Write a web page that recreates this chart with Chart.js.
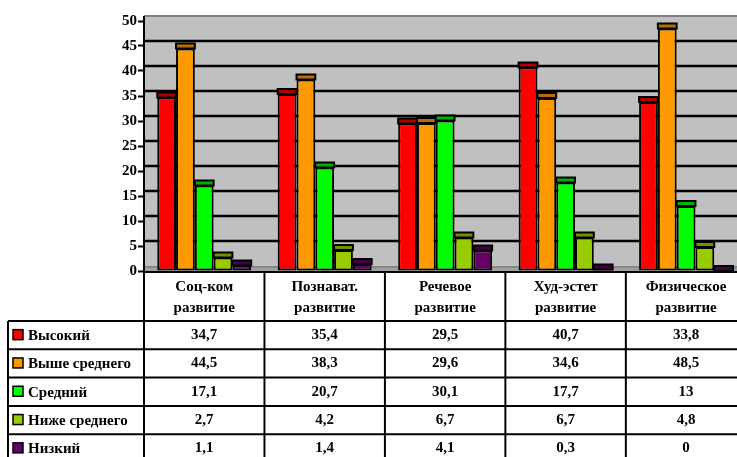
<!DOCTYPE html>
<html>
<head>
<meta charset="utf-8">
<script src="https://cdn.jsdelivr.net/npm/chart.js@4/dist/chart.umd.min.js"></script>
<style>
  html, body { margin: 0; padding: 0; background: #fff; overflow: hidden; }
  #wrap { width: 760px; height: 457px; position: relative; }
</style>
</head>
<body>
<div id="wrap"><canvas id="c" width="760" height="457"></canvas></div>
<script>
// ---- data ----
const categories = [['Соц-ком', 'развитие'], ['Познават.', 'развитие'], ['Речевое', 'развитие'], ['Худ-эстет', 'развитие'], ['Физическое', 'развитие']];
const seriesNames = ['Высокий', 'Выше среднего', 'Средний', 'Ниже среднего', 'Низкий'];
const valuesHigh = [34.7, 35.4, 29.5, 40.7, 33.8];
const valuesAboveAvg = [44.5, 38.3, 29.6, 34.6, 48.5];
const valuesAvg = [17.1, 20.7, 30.1, 17.7, 13];
const valuesBelowAvg = [2.7, 4.2, 6.7, 6.7, 4.8];
const valuesLow = [1.1, 1.4, 4.1, 0.3, 0];
const yTicks = [0, 5, 10, 15, 20, 25, 30, 35, 40, 45, 50];

// ---- styles ----
const faceColors = ['#FF0000', '#FF9900', '#00FF00', '#99CC00', '#660066'];
const capColors = ['#A80000', '#B86E00', '#00B000', '#6E9300', '#470047'];
const FONT = '"Liberation Serif", "Times New Roman", serif';
const DEPTH = 5;

const seriesValues = [valuesHigh, valuesAboveAvg, valuesAvg, valuesBelowAvg, valuesLow];

const fmt = v => String(v).replace('.', ',');

const wallPlugin = {
  id: 'wall',
  beforeDatasetsDraw(chart) {
    const { ctx, chartArea: a, scales: { y } } = chart;
    const top = y.getPixelForValue(yTicks[yTicks.length - 1]) - DEPTH;
    const y0 = y.getPixelForValue(0);
    ctx.save();
    ctx.fillStyle = '#C0C0C0';
    ctx.fillRect(a.left, top, a.right - a.left, y0 - top);
    // floor
    ctx.fillStyle = '#A0A0A0';
    ctx.fillRect(a.left, y0 - DEPTH, a.right - a.left, DEPTH);
    ctx.strokeStyle = '#808080';
    ctx.lineWidth = 1.5;
    ctx.beginPath();
    ctx.moveTo(a.left, y0 - DEPTH + 1); ctx.lineTo(a.right, y0 - DEPTH + 1);
    ctx.stroke();
    // gridlines on back wall
    ctx.strokeStyle = '#000';
    ctx.lineWidth = 2.5;
    yTicks.forEach(t => {
      if (t === 0 || t === yTicks[yTicks.length - 1]) return;
      const py = y.getPixelForValue(t) - DEPTH;
      ctx.beginPath();
      ctx.moveTo(a.left, py); ctx.lineTo(a.right, py);
      ctx.stroke();
    });
    // top border
    ctx.strokeStyle = '#808080';
    ctx.lineWidth = 2;
    ctx.beginPath();
    ctx.moveTo(a.left, top); ctx.lineTo(a.right, top);
    ctx.stroke();
    ctx.restore();
  },
  afterDatasetsDraw(chart) {
    const { ctx } = chart;
    ctx.save();
    chart.data.datasets.forEach((ds, di) => {
      const meta = chart.getDatasetMeta(di);
      meta.data.forEach(bar => {
        const w = bar.width;
        ctx.fillStyle = capColors[di];
        ctx.fillRect(bar.x - w / 2, bar.y - DEPTH, w, DEPTH);
        ctx.strokeStyle = '#000';
        ctx.lineWidth = 2;
        ctx.strokeRect(bar.x - w / 2, bar.y - DEPTH, w, DEPTH);
      });
    });
    ctx.restore();
  },
  afterDraw(chart) {
    const { ctx, chartArea: a, scales: { x, y } } = chart;
    const top = y.getPixelForValue(yTicks[yTicks.length - 1]) - DEPTH;
    const y0 = y.getPixelForValue(0);
    const n = categories.length;
    const cw = (a.right - a.left) / n;
    const headerBottom = y0 + 50;
    const rowH = 28.3;
    const tableLeft = 8;
    const rowsBottom = headerBottom + rowH * seriesNames.length;
    ctx.save();
    ctx.strokeStyle = '#000';
    ctx.lineWidth = 2;
    // axis line (y)
    ctx.beginPath();
    ctx.moveTo(a.left, top); ctx.lineTo(a.left, rowsBottom);
    ctx.stroke();
    // x axis line
    ctx.beginPath();
    ctx.moveTo(a.left, y0 + 1); ctx.lineTo(a.right, y0 + 1);
    ctx.stroke();
    // category separators
    for (let i = 1; i <= n; i++) {
      const px = x.getPixelForValue(i - 1) + cw / 2;
      ctx.beginPath();
      ctx.moveTo(px, y0); ctx.lineTo(px, rowsBottom);
      ctx.stroke();
    }
    // rows
    for (let r = 0; r <= seriesNames.length; r++) {
      const py = headerBottom + r * rowH;
      ctx.beginPath();
      ctx.moveTo(tableLeft, py); ctx.lineTo(a.right, py);
      ctx.stroke();
    }
    ctx.beginPath();
    ctx.moveTo(tableLeft, headerBottom); ctx.lineTo(tableLeft, rowsBottom);
    ctx.stroke();

    ctx.fillStyle = '#000';
    ctx.font = 'bold 15px ' + FONT;
    ctx.textAlign = 'center';
    ctx.textBaseline = 'middle';
    categories.forEach((lines, i) => {
      const cx = x.getPixelForValue(i);
      ctx.fillText(lines[0], cx, y0 + 16);
      ctx.fillText(lines[1], cx, y0 + 37);
      seriesValues.forEach((vals, r) => {
        ctx.fillText(fmt(vals[i]), cx, headerBottom + r * rowH + rowH / 2);
      });
    });
    ctx.textAlign = 'left';
    seriesNames.forEach((name, r) => {
      const cy = headerBottom + r * rowH + rowH / 2;
      ctx.fillStyle = faceColors[r];
      ctx.fillRect(13, cy - 5.5, 10, 10);
      ctx.strokeStyle = '#000';
      ctx.lineWidth = 1.5;
      ctx.strokeRect(13, cy - 5.5, 10, 10);
      ctx.fillStyle = '#000';
      ctx.fillText(name, 28, cy + 1);
    });
    ctx.restore();
  }
};

new Chart(document.getElementById('c'), {
  type: 'bar',
  data: {
    labels: categories.map(c => c.join(' ')),
    datasets: seriesNames.map((name, i) => ({
      label: name,
      data: seriesValues[i],
      backgroundColor: faceColors[i],
      borderColor: '#000',
      borderWidth: 2,
      borderSkipped: false,
      categoryPercentage: 0.78,
      barPercentage: 1.0
    }))
  },
  options: {
    responsive: false,
    animation: false,
    devicePixelRatio: 1,
    layout: { padding: { top: 21, bottom: 186, left: 0, right: 13.7 } },
    plugins: { legend: { display: false }, tooltip: { enabled: false } },
    scales: {
      x: { display: false },
      y: {
        min: 0, max: 50,
        afterFit(s) { s.width = 144; },
        afterBuildTicks(s) { s.ticks = yTicks.map(v => ({ value: v })); },
        ticks: { color: '#000', padding: 1, font: { family: FONT, size: 15, weight: 'bold' } },
        grid: { color: 'transparent', drawOnChartArea: false, tickColor: '#000', tickLength: 6, tickWidth: 2 },
        border: { display: false }
      }
    }
  },
  plugins: [wallPlugin]
});
</script>
</body>
</html>
